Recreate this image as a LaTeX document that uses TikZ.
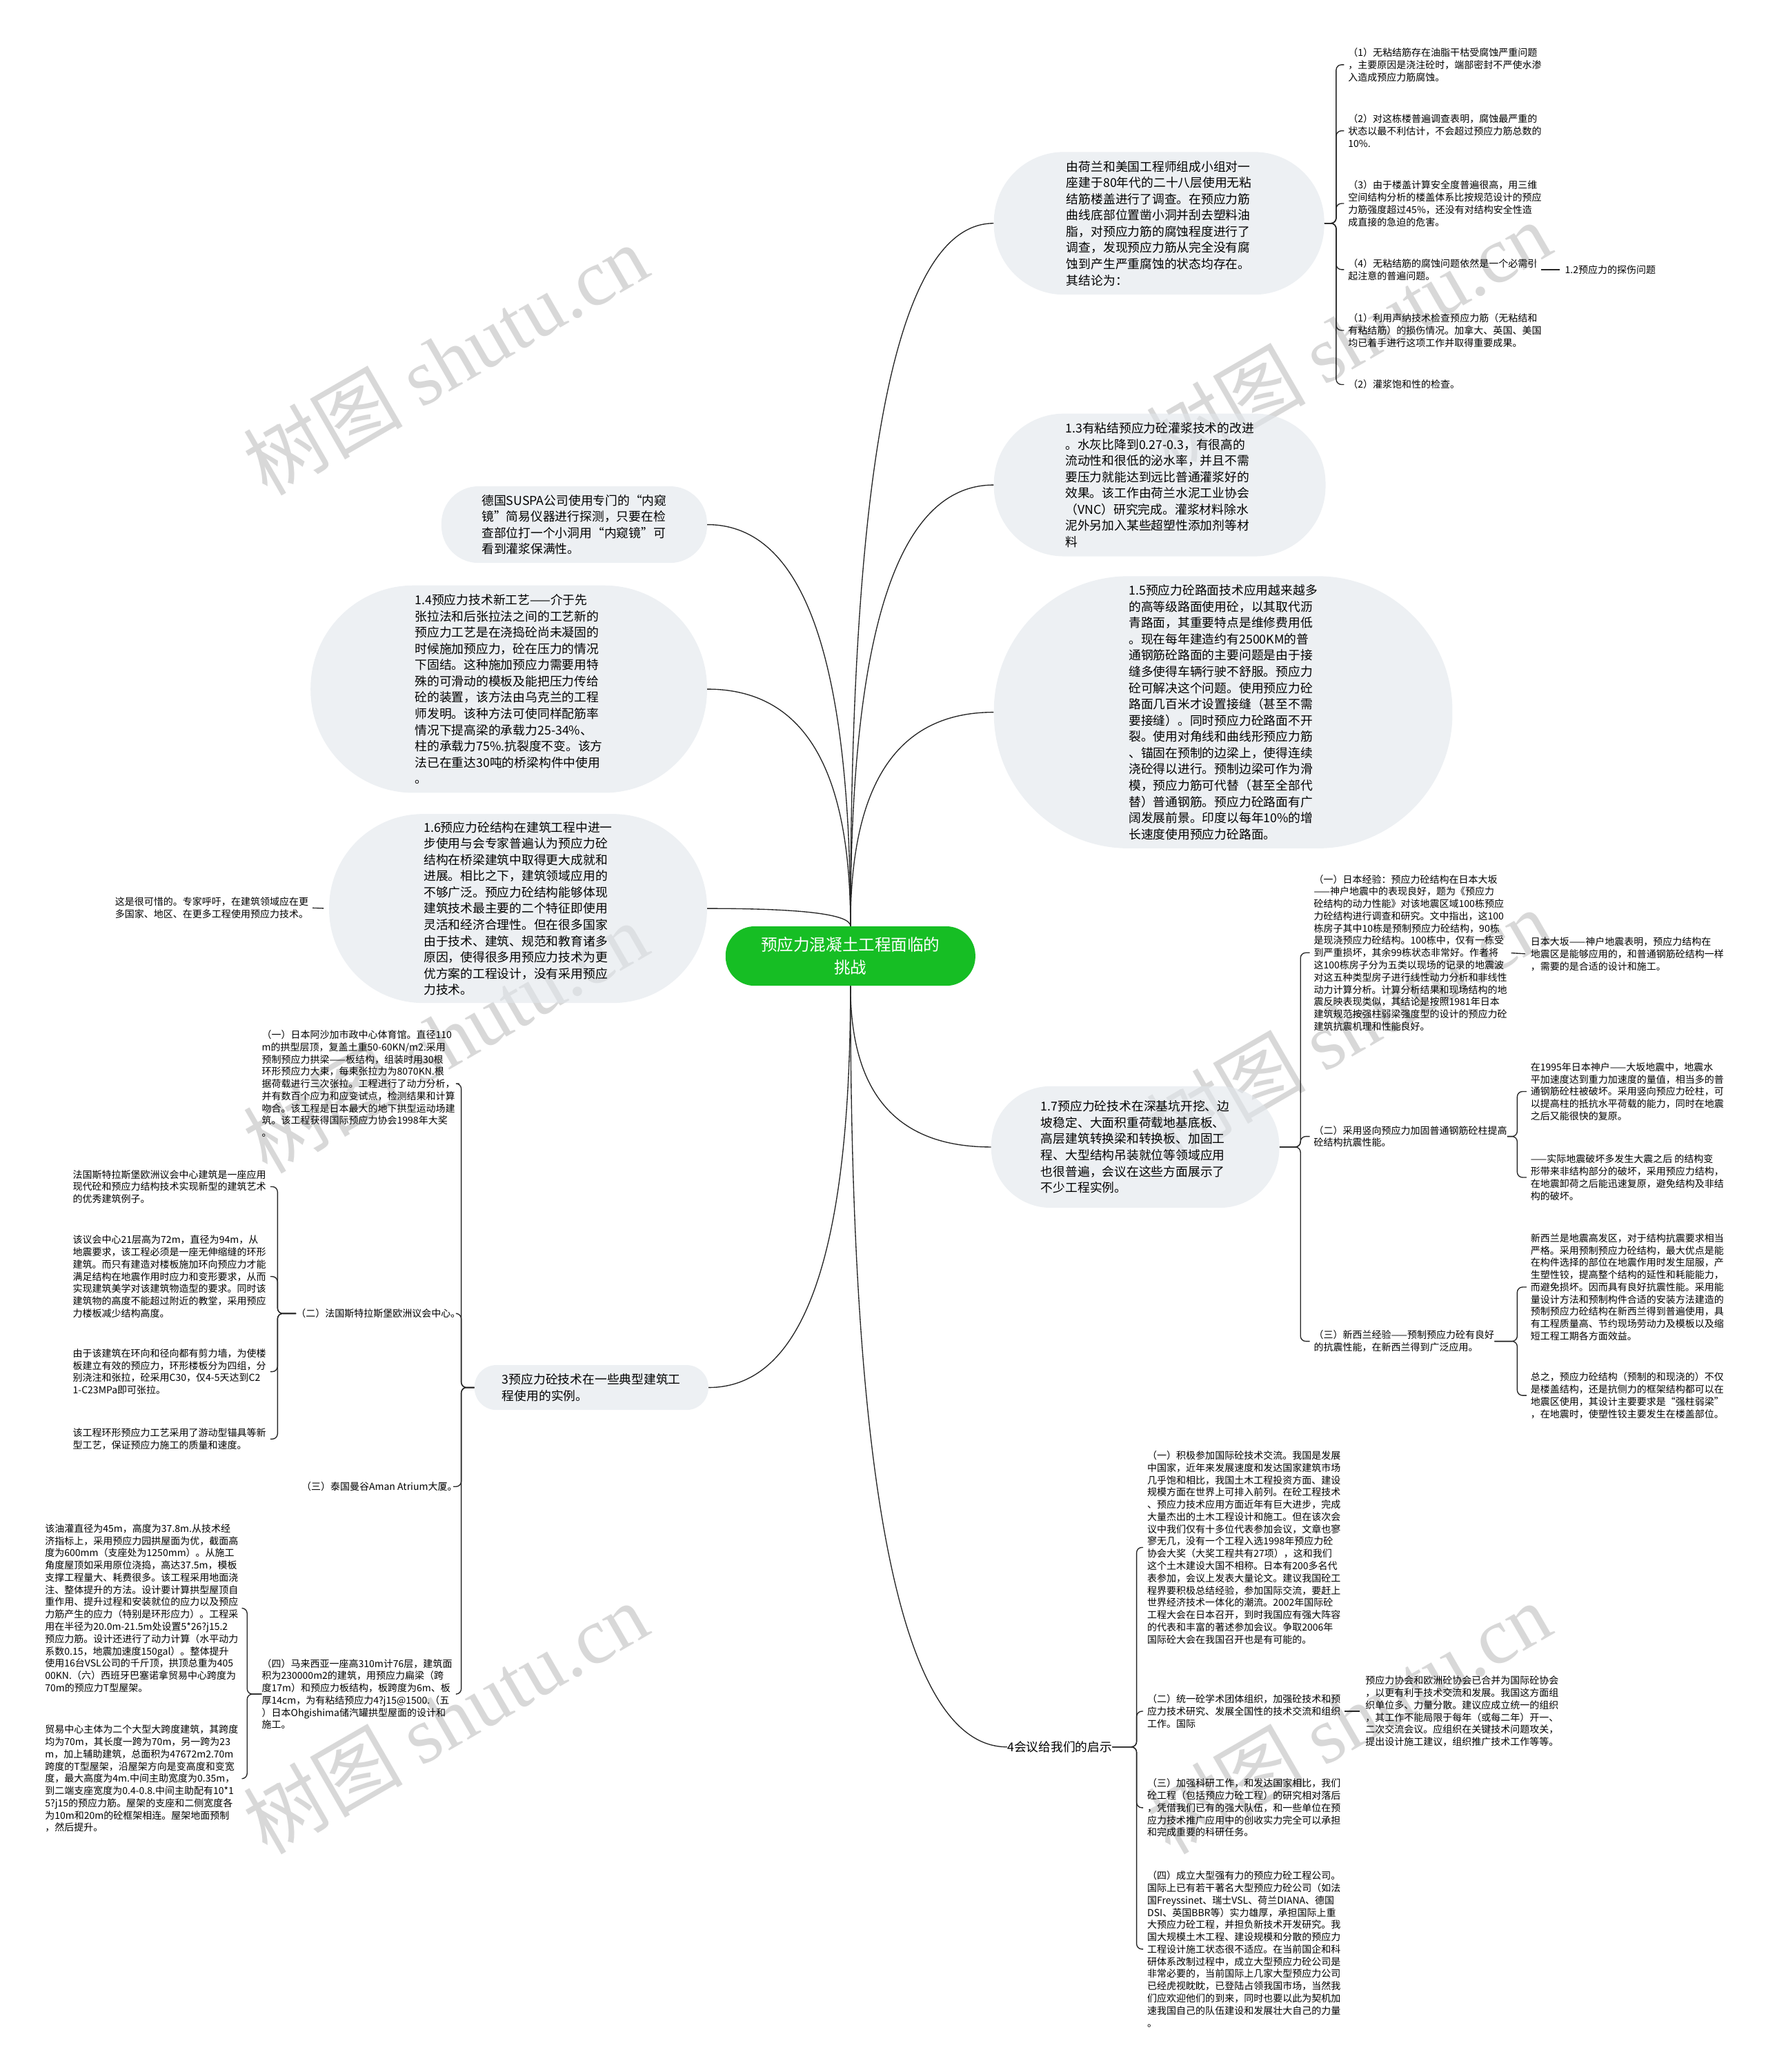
\documentclass[tikz,border=0pt]{standalone}
\usepackage{fontspec}
\setmainfont{Noto Sans CJK SC}
\newfontfamily\wmlatin{Liberation Serif}
\usetikzlibrary{calc}

\definecolor{bubblefill}{RGB}{225,230,235}
\definecolor{rootgreen}{RGB}{22,190,36}
\definecolor{wmgray}{RGB}{216,216,216}

\newcommand{\leaffont}{\fontsize{10.4}{13.2}\selectfont}
\newcommand{\bubfont}{\fontsize{13.2}{17.5}\selectfont}

% root -> topic: vertical start, horizontal end
\newcommand{\curvelink}[2]{%
  \draw[link] (#1) .. controls ($(#1)!0.67!(#1 |- #2)$)
                   and ($(#2)!0.67!(#1 |- #2)$) .. (#2);}
% topic -> children through a bracket at x of #3
\newcommand{\bracelink}[3]{%
  \draw[brace] (#1) -- (#1 -| #3) -- (#3 |- #2) -- (#2);}

\pgfdeclarelayer{wm}
\pgfdeclarelayer{links}
\pgfsetlayers{wm,links,main}

\begin{document}
\begin{tikzpicture}[x=0.05cm, y=-0.05cm,
    bubble/.style={fill=bubblefill, fill opacity=0.6, text opacity=1,
                   align=left, font=\bubfont, inner sep=0pt},
    leaf/.style={align=left, font=\leaffont, inner sep=0pt, anchor=west},
    link/.style={draw=black!85, line width=1pt},
    brace/.style={link, rounded corners=2mm, shorten >=1.5mm},
    stub/.style={link, shorten <=1.5mm, shorten >=2mm}
  ]
  \useasboundingbox (0,0) rectangle (1336,1568);

  \node (root) [fill=rootgreen, rounded corners=11mm, minimum width=94.5mm,
        minimum height=22.5mm, inner sep=0pt, text=white, align=center,
        font=\fontsize{17.5}{24}\selectfont] at (643.5,723.5)
        {预应力混凝土工程面临的\\挑战};

  % ---- right, upper
  \node (survey) [bubble, minimum width=125mm, minimum height=54mm,
        rounded corners=26.5mm] at (877,169)
        {由荷兰和美国工程师组成小组对一\\座建于80年代的二十八层使用无粘\\结筋楼盖进行了调查。在预应力筋\\曲线底部位置凿小洞并刮去塑料油\\脂，对预应力筋的腐蚀程度进行了\\调查，发现预应力筋从完全没有腐\\蚀到产生严重腐蚀的状态均存在。\\其结论为：};

  \node (c1) [leaf] at (1020,49) {（1）无粘结筋存在油脂干枯受腐蚀严重问题\\，主要原因是浇注砼时，端部密封不严使水渗\\入造成预应力筋腐蚀。};
  \node (c2) [leaf] at (1020,99) {（2）对这栋楼普遍调查表明，腐蚀最严重的\\状态以最不利估计，不会超过预应力筋总数的\\10\%.};
  \node (c3) [leaf] at (1020,154) {（3）由于楼盖计算安全度普遍很高，用三维\\空间结构分析的楼盖体系比按规范设计的预应\\力筋强度超过45\%，还没有对结构安全性造\\成直接的急迫的危害。};
  \node (c4) [leaf] at (1020,204) {（4）无粘结筋的腐蚀问题依然是一个必需引\\起注意的普遍问题。};
  \node (c12) [leaf] at (1184,204) {1.2预应力的探伤问题};
  \node (c5) [leaf] at (1020,250) {（1）利用声纳技术检查预应力筋（无粘结和\\有粘结筋）的损伤情况。加拿大、英国、美国\\均已着手进行这项工作并取得重要成果。};
  \node (c6) [leaf] at (1020,291) {（2）灌浆饱和性的检查。};

  \node (b13) [bubble, minimum width=125.5mm, minimum height=54mm,
        rounded corners=26.5mm] at (877.5,367)
        {1.3有粘结预应力砼灌浆技术的改进\\。水灰比降到0.27-0.3，有很高的\\流动性和很低的泌水率，并且不需\\要压力就能达到远比普通灌浆好的\\效果。该工作由荷兰水泥工业协会\\（VNC）研究完成。灌浆材料除水\\泥外另加入某些超塑性添加剂等材\\料};

  \node (b15) [bubble, minimum width=173.5mm, minimum height=103mm,
        rounded corners=51mm] at (925.5,539)
        {1.5预应力砼路面技术应用越来越多\\的高等级路面使用砼，以其取代沥\\青路面，其重要特点是维修费用低\\。现在每年建造约有2500KM的普\\通钢筋砼路面的主要问题是由于接\\缝多使得车辆行驶不舒服。预应力\\砼可解决这个问题。使用预应力砼\\路面几百米才设置接缝（甚至不需\\要接缝）。同时预应力砼路面不开\\裂。使用对角线和曲线形预应力筋\\、锚固在预制的边梁上，使得连续\\浇砼得以进行。预制边梁可作为滑\\模，预应力筋可代替（甚至全部代\\替）普通钢筋。预应力砼路面有广\\阔发展前景。印度以每年10\%的增\\长速度使用预应力砼路面。};

  % ---- right, lower
  \node (b17) [bubble, minimum width=109mm, minimum height=46mm,
        rounded corners=22.5mm] at (859,868)
        {1.7预应力砼技术在深基坑开挖、边\\坡稳定、大面积重荷载地基底板、\\高层建筑转换梁和转换板、加固工\\程、大型结构吊装就位等领域应用\\也很普遍，会议在这些方面展示了\\不少工程实例。};

  \node (j1) [leaf] at (994,721) {（一）日本经验：预应力砼结构在日本大坂\\——神户地震中的表现良好，题为《预应力\\砼结构的动力性能》对该地震区域100栋预应\\力砼结构进行调查和研究。文中指出，这100\\栋房子其中10栋是预制预应力砼结构，90栋\\是现浇预应力砼结构。100栋中，仅有一栋受\\到严重损坏，其余99栋状态非常好。作者将\\这100栋房子分为五类以现场的记录的地震波\\对这五种类型房子进行线性动力分析和非线性\\动力计算分析。计算分析结果和现场结构的地\\震反映表现类似，其结论是按照1981年日本\\建筑规范按强柱弱梁强度型的设计的预应力砼\\建筑抗震机理和性能良好。};
  \node (j1a) [leaf] at (1158,722) {日本大坂——神户地震表明，预应力结构在\\地震区是能够应用的，和普通钢筋砼结构一样\\，需要的是合适的设计和施工。};
  \node (j2) [leaf] at (994,860) {（二）采用竖向预应力加固普通钢筋砼柱提高\\砼结构抗震性能。};
  \node (j2a) [leaf] at (1158,826) {在1995年日本神户——大坂地震中，地震水\\平加速度达到重力加速度的量值，相当多的普\\通钢筋砼柱被破坏。采用竖向预应力砼柱，可\\以提高柱的抵抗水平荷载的能力，同时在地震\\之后又能很快的复原。};
  \node (j2b) [leaf] at (1158,891) {——实际地震破坏多发生大震之后 的结构变\\形带来非结构部分的破坏，采用预应力结构，\\在地震卸荷之后能迅速复原，避免结构及非结\\构的破坏。};
  \node (j3) [leaf] at (994,1015) {（三）新西兰经验——预制预应力砼有良好\\的抗震性能，在新西兰得到广泛应用。};
  \node (j3a) [leaf] at (1158,974) {新西兰是地震高发区，对于结构抗震要求相当\\严格。采用预制预应力砼结构，最大优点是能\\在构件选择的部位在地震作用时发生屈服，产\\生塑性铰，提高整个结构的延性和耗能能力，\\而避免损坏。因而具有良好抗震性能。采用能\\量设计方法和预制构件合适的安装方法建造的\\预制预应力砼结构在新西兰得到普遍使用，具\\有工程质量高、节约现场劳动力及模板以及缩\\短工程工期各方面效益。};
  \node (j3b) [leaf] at (1158,1056) {总之，预应力砼结构（预制的和现浇的）不仅\\是楼盖结构，还是抗侧力的框架结构都可以在\\地震区使用，其设计主要要求是“强柱弱梁”\\，在地震时，使塑性铰主要发生在楼盖部位。};

  \node (m4) [font=\bubfont, inner sep=0pt, anchor=west] at (762,1322) {4会议给我们的启示};

  \node (k1) [leaf] at (868,1171) {（一）积极参加国际砼技术交流。我国是发展\\中国家，近年来发展速度和发达国家建筑市场\\几乎饱和相比，我国土木工程投资方面、建设\\规模方面在世界上可排入前列。在砼工程技术\\、预应力技术应用方面近年有巨大进步，完成\\大量杰出的土木工程设计和施工。但在该次会\\议中我们仅有十多位代表参加会议，文章也寥\\寥无几，没有一个工程入选1998年预应力砼\\协会大奖（大奖工程共有27项），这和我们\\这个土木建设大国不相称。日本有200多名代\\表参加，会议上发表大量论文。建议我国砼工\\程界要积极总结经验，参加国际交流，要赶上\\世界经济技术一体化的潮流。2002年国际砼\\工程大会在日本召开，到时我国应有强大阵容\\的代表和丰富的著述参加会议。争取2006年\\国际砼大会在我国召开也是有可能的。};
  \node (k2) [leaf] at (868,1295) {（二）统一砼学术团体组织，加强砼技术和预\\应力技术研究、发展全国性的技术交流和组织\\工作。国际};
  \node (k2a) [leaf] at (1033,1295) {预应力协会和欧洲砼协会已合并为国际砼协会\\，以更有利于技术交流和发展。我国这方面组\\织单位多、力量分散。建议应成立统一的组织\\，其工作不能局限于每年（或每二年）开一、\\二次交流会议。应组织在关键技术问题攻关，\\提出设计施工建议，组织推广技术工作等等。};
  \node (k3) [leaf] at (868,1368) {（三）加强科研工作，和发达国家相比，我们\\砼工程（包括预应力砼工程）的研究相对落后\\，凭借我们已有的强大队伍，和一些单位在预\\应力技术推广应用中的创收实力完全可以承担\\和完成重要的科研任务。};
  \node (k4) [leaf] at (868,1475) {（四）成立大型强有力的预应力砼工程公司。\\国际上已有若干著名大型预应力砼公司（如法\\国Freyssinet、瑞士VSL、荷兰DIANA、德国\\DSI、英国BBR等）实力雄厚，承担国际上重\\大预应力砼工程，并担负新技术开发研究。我\\国大规模土木工程、建设规模和分散的预应力\\工程设计施工状态很不适应。在当前国企和科\\研体系改制过程中，成立大型预应力砼公司是\\非常必要的，当前国际上几家大型预应力公司\\已经虎视眈眈，已登陆占领我国市场，当然我\\们应欢迎他们的到来，同时也要以此为契机加\\速我国自己的队伍建设和发展壮大自己的力量\\。};

  % ---- left, upper
  \node (suspa) [bubble, minimum width=100.5mm, minimum height=29mm,
        rounded corners=14mm] at (434.5,397)
        {德国SUSPA公司使用专门的“内窥\\镜”简易仪器进行探测，只要在检\\查部位打一个小洞用“内窥镜”可\\看到灌浆保满性。};
  \node (b14) [bubble, minimum width=150mm, minimum height=78.5mm,
        rounded corners=39mm] at (385,521.5)
        {1.4预应力技术新工艺——介于先\\张拉法和后张拉法之间的工艺新的\\预应力工艺是在浇捣砼尚未凝固的\\时候施加预应力，砼在压力的情况\\下固结。这种施加预应力需要用特\\殊的可滑动的模板及能把压力传给\\砼的装置，该方法由乌克兰的工程\\师发明。该种方法可使同样配筋率\\情况下提高梁的承载力25-34\%、\\柱的承载力75\%.抗裂度不变。该方\\法已在重达30吨的桥梁构件中使用\\。};
  \node (b16) [bubble, minimum width=143mm, minimum height=71.5mm,
        rounded corners=35.5mm] at (392,687.5)
        {1.6预应力砼结构在建筑工程中进一\\步使用与会专家普遍认为预应力砼\\结构在桥梁建筑中取得更大成就和\\进展。相比之下，建筑领域应用的\\不够广泛。预应力砼结构能够体现\\建筑技术最主要的二个特征即使用\\灵活和经济合理性。但在很多国家\\由于技术、建筑、规范和教育诸多\\原因，使得很多用预应力技术为更\\优方案的工程设计，没有采用预应\\力技术。};
  \node (l16a) [leaf] at (87,687) {这是很可惜的。专家呼吁，在建筑领域应在更\\多国家、地区、在更多工程使用预应力技术。};

  % ---- left, lower
  \node (b3) [bubble, minimum width=88.5mm, minimum height=17mm,
        rounded corners=8.3mm] at (447.5,1050)
        {3预应力砼技术在一些典型建筑工\\程使用的实例。};

  \node (p1) [leaf] at (198,820) {（一）日本阿沙加市政中心体育馆。直径110\\m的拱型层顶，复盖土重50-60KN/m2.采用\\预制预应力拱梁——板结构，组装时用30根\\环形预应力大束，每束张拉力为8070KN.根\\据荷载进行三次张拉。工程进行了动力分析，\\并有数百个应力和应变试点，检测结果和计算\\吻合。该工程是日本最大的地下拱型运动场建\\筑。该工程获得国际预应力协会1998年大奖\\。};
  \node (p2) [leaf] at (224,994) {（二）法国斯特拉斯堡欧洲议会中心。};
  \node (p3) [leaf] at (228,1125) {（三）泰国曼谷Aman Atrium大厦。};
  \node (p4) [leaf] at (198,1282) {（四）马来西亚一座高310m计76层，建筑面\\积为230000m2的建筑，用预应力扁梁（跨\\度17m）和预应力板结构，板跨度为6m、板\\厚14cm，为有粘结预应力4?j15@1500.（五\\）日本Ohgishima储汽罐拱型屋面的设计和\\施工。};

  \node (q1) [leaf] at (55,898) {法国斯特拉斯堡欧洲议会中心建筑是一座应用\\现代砼和预应力结构技术实现新型的建筑艺术\\的优秀建筑例子。};
  \node (q2) [leaf] at (55,966) {该议会中心21层高为72m，直径为94m，从\\地震要求，该工程必须是一座无伸缩缝的环形\\建筑。而只有建造对楼板施加环向预应力才能\\满足结构在地震作用时应力和变形要求，从而\\实现建筑美学对该建筑物造型的要求。同时该\\建筑物的高度不能超过附近的教堂，采用预应\\力楼板减少结构高度。};
  \node (q3) [leaf] at (55,1038) {由于该建筑在环向和径向都有剪力墙，为使楼\\板建立有效的预应力，环形楼板分为四组，分\\别浇注和张拉，砼采用C30，仅4-5天达到C2\\1-C23MPa即可张拉。};
  \node (q4) [leaf] at (55,1089) {该工程环形预应力工艺采用了游动型锚具等新\\型工艺，保证预应力施工的质量和速度。};

  \node (r1) [leaf] at (34,1217) {该油灌直径为45m，高度为37.8m.从技术经\\济指标上，采用预应力园拱屋面为优，截面高\\度为600mm（支座处为1250mm）。从施工\\角度屋顶如采用原位浇捣，高达37.5m，模板\\支撑工程量大、耗费很多。该工程采用地面浇\\注、整体提升的方法。设计要计算拱型屋顶自\\重作用、提升过程和安装就位的应力以及预应\\力筋产生的应力（特别是环形应力）。工程采\\用在半径为20.0m-21.5m处设置5*26?j15.2\\预应力筋。设计还进行了动力计算（水平动力\\系数0.15，地震加速度150gal）。整体提升\\使用16台VSL公司的千斤顶，拱顶总重为405\\00KN.（六）西班牙巴塞诺拿贸易中心跨度为\\70m的预应力T型屋架。};
  \node (r2) [leaf] at (34,1346) {贸易中心主体为二个大型大跨度建筑，其跨度\\均为70m，其长度一跨为70m，另一跨为23\\m，加上辅助建筑，总面积为47672m2.70m\\跨度的T型屋架，沿屋架方向是变高度和变宽\\度，最大高度为4m.中间主助宽度为0.35m，\\到二端支座宽度为0.4-0.8.中间主助配有10*1\\5?j15的预应力筋。屋架的支座和二侧宽度各\\为10m和20m的砼框架相连。屋架地面预制\\，然后提升。};

  % bracket columns
  \coordinate (xa) at (1011,0);
  \coordinate (xb) at (984,0);
  \coordinate (xc) at (1148,0);
  \coordinate (xd) at (860,0);
  \coordinate (xe) at (349,0);
  \coordinate (xf) at (210,0);
  \coordinate (xg) at (187,0);

  \begin{pgfonlayer}{links}
    \foreach \t in {survey,b13,b15}
      \curvelink{root.north}{\t.west};
    \foreach \t in {suspa,b14,b16}
      \curvelink{root.north}{\t.east};
    \foreach \t in {b17,m4}
      \curvelink{root.south}{\t.west};
    \curvelink{root.south}{b3.east};

    \foreach \c in {c1,c2,c3,c4,c5,c6}
      \bracelink{survey.east}{\c.west}{xa};
    \foreach \c in {j1,j2,j3}
      \bracelink{b17.east}{\c.west}{xb};
    \foreach \c in {j2a,j2b}
      \bracelink{j2.east}{\c.west}{xc};
    \foreach \c in {j3a,j3b}
      \bracelink{j3.east}{\c.west}{xc};
    \foreach \c in {k1,k2,k3,k4}
      \bracelink{m4.east}{\c.west}{xd};
    \foreach \c in {p1,p2,p3,p4}
      \bracelink{b3.west}{\c.east}{xe};
    \foreach \c in {q1,q2,q3,q4}
      \bracelink{p2.west}{\c.east}{xf};
    \foreach \c in {r1,r2}
      \bracelink{p4.west}{\c.east}{xg};

    \draw[stub] (c4.east) -- (c12.west);
    \draw[stub] (j1.east) -- (j1a.west);
    \draw[stub] (k2.east) -- (k2a.west);
    \draw[stub] (l16a.east) -- (b16.west);
  \end{pgfonlayer}

  % watermark
  \begin{pgfonlayer}{wm}
    \foreach \wx/\wy [count=\i] in {337/272,1020/255,337/785,1020/775,337/1300,1020/1300}
      \node (wm\i) [text=wmgray, rotate=30, inner sep=0pt,
            font=\fontsize{86}{86}\selectfont] at (\wx,\wy)
            {树图 {\wmlatin shutu.cn}};
  \end{pgfonlayer}
\end{tikzpicture}
\end{document}
